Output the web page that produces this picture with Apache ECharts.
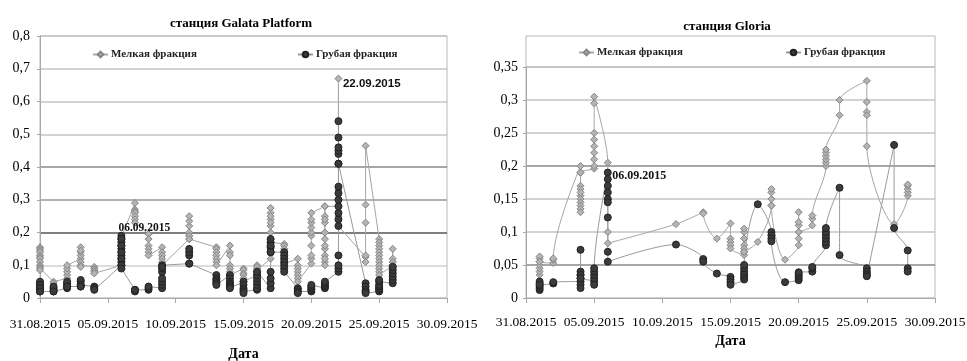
<!DOCTYPE html>
<html>
<head>
<meta charset="utf-8">
<script src="https://cdn.jsdelivr.net/npm/echarts@6/dist/echarts.min.js"></script>
<style>
  html, body { margin: 0; padding: 0; background: #fff; }
  #chart { width: 967px; height: 361px; }
</style>
</head>
<body>
<div id="chart"></div>
<script>
// x is days from 31.08.2015
const dateTicks = ['31.08.2015', '05.09.2015', '10.09.2015', '15.09.2015', '20.09.2015', '25.09.2015', '30.09.2015'];
const fineName = 'Мелкая фракция';
const coarseName = 'Грубая фракция';

// станция Galata Platform
const galataDays = [0, 1, 2, 3, 4, 6, 7, 8, 9, 11, 13, 14, 15, 16, 17, 18, 19, 20, 21, 22, 24, 25, 26];
const galataFine = [
  [0.155, 0.15, 0.145, 0.14, 0.13, 0.125, 0.12, 0.11, 0.1, 0.095, 0.09, 0.085],
  [0.05, 0.045],
  [0.06, 0.07, 0.08, 0.09, 0.1],
  [0.12, 0.13, 0.14, 0.155, 0.145, 0.11, 0.1, 0.095],
  [0.095, 0.09, 0.085, 0.08, 0.075],
  [0.1, 0.13, 0.16, 0.185],
  [0.29, 0.27, 0.265, 0.26, 0.25, 0.24, 0.23],
  [0.195, 0.18, 0.16, 0.15, 0.14, 0.13],
  [0.155, 0.14, 0.13, 0.12, 0.11, 0.1, 0.095],
  [0.18, 0.19, 0.2, 0.22, 0.235, 0.25, 0.19, 0.18],
  [0.155, 0.15, 0.14, 0.13, 0.12, 0.11, 0.1],
  [0.16, 0.14, 0.13, 0.1, 0.09, 0.08, 0.07],
  [0.09, 0.085, 0.075, 0.07, 0.06, 0.05],
  [0.07, 0.08, 0.09, 0.1, 0.095, 0.085],
  [0.12, 0.15, 0.18, 0.2, 0.22, 0.24, 0.26, 0.275, 0.25, 0.23, 0.17],
  [0.165, 0.16, 0.15, 0.14, 0.13, 0.12, 0.105],
  [0.12, 0.1, 0.09, 0.08, 0.07, 0.06, 0.05],
  [0.105, 0.12, 0.13, 0.16, 0.19, 0.2, 0.215, 0.23, 0.24, 0.26],
  [0.28, 0.25, 0.23, 0.2, 0.18, 0.15, 0.13, 0.11, 0.1, 0.12, 0.16, 0.2, 0.24, 0.28],
  [0.28, 0.3, 0.33, 0.67, 0.3, 0.25, 0.22],
  [0.125, 0.11, 0.13, 0.23, 0.285, 0.465],
  [0.18, 0.17, 0.16, 0.15, 0.14, 0.13, 0.12, 0.11, 0.1, 0.09, 0.08, 0.07],
  [0.1, 0.11, 0.12, 0.15, 0.11, 0.1, 0.095]
];
const galataCoarse = [
  [0.02, 0.025, 0.03, 0.035, 0.04, 0.045, 0.05, 0.04, 0.03, 0.02],
  [0.02, 0.025, 0.03, 0.035, 0.02],
  [0.03, 0.035, 0.04, 0.045, 0.05, 0.035],
  [0.035, 0.04, 0.05, 0.055, 0.04, 0.035],
  [0.035, 0.03, 0.025],
  [0.1, 0.11, 0.12, 0.13, 0.14, 0.15, 0.16, 0.17, 0.18, 0.19, 0.18, 0.16, 0.14, 0.12, 0.1, 0.09],
  [0.025, 0.02, 0.025],
  [0.025, 0.03, 0.035],
  [0.03, 0.04, 0.05, 0.06, 0.08, 0.09, 0.1, 0.095],
  [0.105, 0.13, 0.14, 0.15, 0.105],
  [0.07, 0.06, 0.055, 0.05, 0.045, 0.04],
  [0.07, 0.06, 0.05, 0.045, 0.04, 0.035, 0.03],
  [0.05, 0.04, 0.03, 0.025, 0.02, 0.015],
  [0.025, 0.03, 0.04, 0.05, 0.06, 0.07, 0.08],
  [0.03, 0.045, 0.06, 0.08, 0.14, 0.155, 0.17, 0.18, 0.16, 0.14],
  [0.14, 0.13, 0.12, 0.11, 0.1, 0.09, 0.08],
  [0.03, 0.025, 0.02, 0.015],
  [0.02, 0.025, 0.03, 0.035, 0.04],
  [0.03, 0.035, 0.04, 0.045, 0.05],
  [0.08, 0.09, 0.1, 0.13, 0.22, 0.24, 0.26, 0.28, 0.3, 0.32, 0.34, 0.41, 0.44, 0.45, 0.46, 0.49, 0.54, 0.41],
  [0.045, 0.035, 0.025, 0.02, 0.015],
  [0.02, 0.025, 0.03, 0.035, 0.04, 0.05, 0.055],
  [0.045, 0.055, 0.065, 0.075, 0.085, 0.095]
];

// станция Gloria
const gloriaDays = [1, 2, 4, 5, 6, 11, 13, 14, 15, 16, 17, 18, 19, 20, 21, 22, 23, 25, 27, 28];
const gloriaFine = [
  [0.035, 0.04, 0.045, 0.05, 0.055, 0.06, 0.063, 0.055],
  [0.053, 0.058, 0.06],
  [0.2, 0.19, 0.17, 0.165, 0.155, 0.15, 0.145, 0.14, 0.135, 0.13, 0.16, 0.19],
  [0.196, 0.2, 0.21, 0.22, 0.23, 0.24, 0.25, 0.295, 0.305],
  [0.205, 0.1, 0.083],
  [0.112],
  [0.13, 0.128],
  [0.09],
  [0.113, 0.09, 0.085, 0.08, 0.075],
  [0.065, 0.07, 0.08, 0.09, 0.1, 0.105, 0.09, 0.075, 0.07],
  [0.085],
  [0.14, 0.15, 0.16, 0.165, 0.14],
  [0.058],
  [0.08, 0.09, 0.1, 0.11, 0.13, 0.115, 0.1],
  [0.11, 0.12, 0.125],
  [0.2, 0.205, 0.21, 0.215, 0.22, 0.225],
  [0.277, 0.3],
  [0.329, 0.297, 0.282, 0.277, 0.23],
  [0.112],
  [0.155, 0.16, 0.165, 0.17, 0.172]
];
const gloriaCoarse = [
  [0.012, 0.015, 0.018, 0.022, 0.025, 0.02],
  [0.022, 0.024],
  [0.025, 0.02, 0.015, 0.03, 0.035, 0.04, 0.073, 0.035, 0.03],
  [0.025, 0.02, 0.03, 0.035, 0.04, 0.045],
  [0.19, 0.18, 0.17, 0.16, 0.15, 0.145, 0.122, 0.07, 0.055],
  [0.081],
  [0.059, 0.055],
  [0.037],
  [0.032, 0.028, 0.024, 0.02],
  [0.028, 0.032, 0.036, 0.04, 0.045, 0.05],
  [0.142],
  [0.1, 0.095, 0.09, 0.086],
  [0.024],
  [0.027, 0.03, 0.033, 0.036, 0.039],
  [0.04, 0.045, 0.047],
  [0.08, 0.085, 0.09, 0.095, 0.1, 0.106],
  [0.167, 0.065],
  [0.045, 0.04, 0.036, 0.033],
  [0.232, 0.106],
  [0.072, 0.045, 0.04]
];

function toPoints(days, groups) {
  const pts = [];
  days.forEach((d, i) => groups[i].forEach((v) => pts.push([d, v])));
  return pts;
}

const serif = 'Liberation Serif';
const commaFmt = (v) => String(+v.toFixed(2)).replace('.', ',');

const fineStyle = {
  symbol: 'diamond',
  symbolSize: 7,
  itemStyle: { color: '#b4b4b4', borderColor: '#858585', borderWidth: 1 },
  lineStyle: { color: '#a6a6a6', width: 1 },
};
const coarseStyle = {
  symbol: 'circle',
  symbolSize: 7,
  itemStyle: { color: '#3b3b3b', borderColor: '#222', borderWidth: 1 },
  lineStyle: { color: '#9a9a9a', width: 1 },
};

function xAxis(gridIndex, margin, nameGap) {
  return {
    gridIndex,
    type: 'value',
    min: 0,
    max: 30,
    interval: 5,
    name: 'Дата',
    nameLocation: 'middle',
    nameGap,
    nameTextStyle: { fontFamily: serif, fontSize: 14, fontWeight: 'bold', color: '#000' },
    axisLine: { show: true, lineStyle: { color: '#a8a8a8' } },
    axisTick: { show: true, length: 5, lineStyle: { color: '#a8a8a8' } },
    axisLabel: {
      margin,
      fontFamily: serif,
      fontSize: 13.5,
      color: '#000',
      formatter: (v) => dateTicks[Math.round(v / 5)],
    },
    splitLine: { show: false },
  };
}

function yAxis(gridIndex, max, interval, colors, margin) {
  return {
    gridIndex,
    type: 'value',
    min: 0,
    max,
    interval,
    axisLine: { show: true, lineStyle: { color: '#a8a8a8' } },
    axisTick: { show: true, length: 3, lineStyle: { color: '#a8a8a8' } },
    axisLabel: { margin, fontFamily: serif, fontSize: 14, color: '#000', formatter: commaFmt },
    splitLine: { show: true, lineStyle: { color: colors, width: 1.5 } },
  };
}

function legendItem(name, left, top) {
  return {
    data: [name],
    left,
    top,
    padding: 0,
    itemWidth: 15,
    itemHeight: 7,
    itemGap: 0,
    selectedMode: false,
    textStyle: { fontFamily: serif, fontSize: 11, fontWeight: 'bold', color: '#222', padding: [0, 0, 0, -2] },
  };
}

function note(text, coord, font, size) {
  return {
    coord,
    symbol: 'circle',
    symbolSize: 1,
    itemStyle: { color: 'rgba(0,0,0,0)', borderWidth: 0 },
    label: {
      show: true,
      formatter: text,
      position: 'right',
      distance: 4,
      fontFamily: font,
      fontSize: size,
      fontWeight: 'bold',
      color: '#111',
    },
  };
}

const chart = echarts.init(document.getElementById('chart'), null, { renderer: 'canvas' });
chart.setOption({
  animation: false,
  backgroundColor: '#fff',
  title: [
    { text: 'станция Galata Platform', left: 236, top: 12, textAlign: 'center',
      textStyle: { fontFamily: serif, fontSize: 13, fontWeight: 'bold', color: '#000' } },
    { text: 'станция Gloria', left: 722, top: 15, textAlign: 'center',
      textStyle: { fontFamily: serif, fontSize: 13, fontWeight: 'bold', color: '#000' } },
  ],
  legend: [
    legendItem(fineName, 92, 49),
    legendItem(coarseName, 297, 49),
    legendItem(fineName, 578, 47),
    legendItem(coarseName, 785, 47),
  ],
  grid: [
    { left: 40, right: 520, top: 36, bottom: 63, outerBoundsMode: 'none', show: true, borderColor: '#b8b8b8', borderWidth: 1 },
    { left: 526, right: 32, top: 67, bottom: 63, outerBoundsMode: 'none', show: true, borderColor: '#b8b8b8', borderWidth: 1 },
  ],
  graphic: [
    { type: 'rect', shape: { x: 526, y: 36, width: 409, height: 31 },
      style: { fill: 'none', stroke: '#b8b8b8', lineWidth: 1 }, silent: true },
  ],
  xAxis: [xAxis(0, 19, 49), xAxis(1, 17, 36)],
  yAxis: [
    yAxis(0, 0.8, 0.1, ['#d0d0d0', '#d0d0d0', '#555', '#999', '#8a8a8a', '#c4c4c4', '#c4c4c4', '#c4c4c4', '#c4c4c4'], 10),
    yAxis(1, 0.35, 0.05, ['#d0d0d0', '#8a8a8a', '#c4c4c4', '#c4c4c4', '#8a8a8a', '#c4c4c4', '#c4c4c4', '#c4c4c4'], 8),
  ],
  series: [
    { name: fineName, type: 'line', xAxisIndex: 0, yAxisIndex: 0, data: toPoints(galataDays, galataFine), ...fineStyle,
      markPoint: { silent: true, data: [note('22.09.2015', [22, 0.655], 'Liberation Sans', 11.5)] } },
    { name: coarseName, type: 'line', xAxisIndex: 0, yAxisIndex: 0, data: toPoints(galataDays, galataCoarse), ...coarseStyle,
      markPoint: { silent: true, data: [note('06.09.2015', [5.45, 0.215], serif, 11.5)] } },
    { name: fineName, type: 'line', xAxisIndex: 1, yAxisIndex: 1, smooth: 0.3, data: toPoints(gloriaDays, gloriaFine), ...fineStyle },
    { name: coarseName, type: 'line', xAxisIndex: 1, yAxisIndex: 1, smooth: 0.3, data: toPoints(gloriaDays, gloriaCoarse), ...coarseStyle,
      markPoint: { silent: true, data: [note('06.09.2015', [6, 0.185], serif, 12)] } },
  ],
});
</script>
</body>
</html>
